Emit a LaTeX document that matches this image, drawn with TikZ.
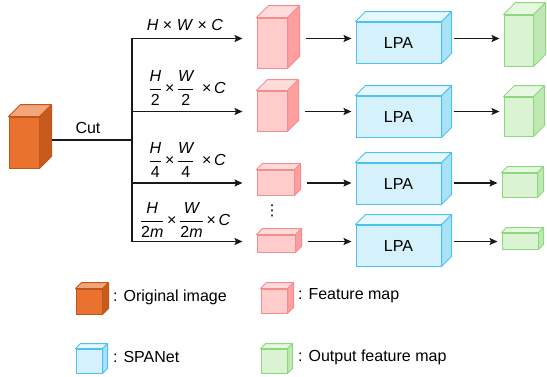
\documentclass[tikz,border=0pt]{standalone}
\usepackage{amsmath}
\usepackage{fontspec}
\setmainfont{Liberation Sans}
\newfontfamily\symfont{DejaVu Sans}
\usetikzlibrary{arrows.meta}

\definecolor{origfront}{HTML}{E8722E}
\definecolor{origtop}{HTML}{F2A679}
\definecolor{origside}{HTML}{C85A1C}
\definecolor{origline}{HTML}{C0561C}
\definecolor{featfront}{HTML}{FFCCCC}
\definecolor{feattop}{HTML}{FFDCDC}
\definecolor{featside}{HTML}{FF9F9F}
\definecolor{featline}{HTML}{F58C8C}
\definecolor{lpafront}{HTML}{D5F1FB}
\definecolor{lpatop}{HTML}{E6F7FD}
\definecolor{lpaside}{HTML}{A9E1F6}
\definecolor{lpaline}{HTML}{4FC1EE}
\definecolor{outfront}{HTML}{DAF3D2}
\definecolor{outtop}{HTML}{E6F8E0}
\definecolor{outside}{HTML}{BFE9B2}
\definecolor{outline}{HTML}{8ED67F}

% #1 style, #2 name, #3 position, #4 width, #5 height, #6 depth, #7 text
\newcommand{\cuboid}[7]{%
  \node[#1, minimum width=#4, minimum height=#5] (#2) at #3 {#7};
  \draw[#1 side] (#2.north east) -- ++(#6,-#6)
    -- ([shift={(#6,-#6)}]#2.south east) -- (#2.south east) -- cycle;
  \draw[#1 top] (#2.north west) -- ++(#6,-#6)
    -- ([shift={(#6,-#6)}]#2.north east) -- (#2.north east) -- cycle;
}
\newcommand{\tms}{\text{\,×\,}}

\begin{document}
\begin{tikzpicture}[x=1pt,y=-1pt,font=\fontsize{16}{19}\selectfont,
  >={Stealth[length=8pt,width=7pt,inset=1.5pt]},
  link/.style={line width=1.5pt,color=black!90},
  orig/.style={draw=origline,fill=origfront,line width=1pt,inner sep=0pt},
  orig side/.style={draw=origline,fill=origside,line width=1pt,line join=round},
  orig top/.style={draw=origline,fill=origtop,line width=1pt,line join=round},
  feat/.style={draw=featline,fill=featfront,line width=1pt,inner sep=0pt},
  feat side/.style={draw=featline,fill=featside,line width=1pt,line join=round},
  feat top/.style={draw=featline,fill=feattop,line width=1pt,line join=round},
  lpa/.style={draw=lpaline,fill=lpafront,line width=1pt,inner sep=0pt},
  lpa side/.style={draw=lpaline,fill=lpaside,line width=1pt,line join=round},
  lpa top/.style={draw=lpaline,fill=lpatop,line width=1pt,line join=round},
  outp/.style={draw=outline,fill=outfront,line width=1pt,inner sep=0pt},
  outp side/.style={draw=outline,fill=outside,line width=1pt,line join=round},
  outp top/.style={draw=outline,fill=outtop,line width=1pt,line join=round},
  legend/.style={anchor=west,inner sep=0pt}]
  \useasboundingbox (0,0) rectangle (547,376);
  % rows of the four scales
  \coordinate (r1) at (0,38.5);
  \coordinate (r2) at (0,111.5);
  \coordinate (r3) at (0,183);
  \coordinate (r4) at (0,241.5);
  \coordinate (cut) at (132,140);
  % input
  \cuboid{orig}{img}{(24,142.5)}{30}{51}{12}{}
  % feature maps
  \cuboid{feat}{f1}{(272,43)}{30}{50}{12}{}
  \cuboid{feat}{f2}{(272,111)}{30}{40}{11}{}
  \cuboid{feat}{f3}{(275.5,182.5)}{37}{25}{6}{}
  \cuboid{feat}{f4}{(276,243.5)}{38}{17}{6}{}
  % LPA blocks
  \cuboid{lpa}{l1}{(398.5,42.5)}{85}{41}{10}{LPA}
  \cuboid{lpa}{l2}{(398.5,116.5)}{85}{41}{10}{LPA}
  \cuboid{lpa}{l3}{(398.5,183.5)}{85}{41}{10}{LPA}
  \cuboid{lpa}{l4}{(398.5,245.5)}{85}{41}{10}{LPA}
  % outputs
  \cuboid{outp}{o1}{(518.5,40.5)}{29}{51}{12}{}
  \cuboid{outp}{o2}{(518.5,116.5)}{29}{39}{11}{}
  \cuboid{outp}{o3}{(519.5,185)}{35}{24}{6}{}
  \cuboid{outp}{o4}{(520,241)}{36}{16}{5}{}
  \node[inner sep=0pt] (dots) at (272,211) {\symfont\fontsize{15}{15}\selectfont ⋮};

  % cut and branches
  \draw[link,shorten <=12pt] (img.east |- cut) -- (cut);
  \node (cutlbl) at (88,128) {Cut};
  \draw[link,line cap=rect] (cut |- r1) -- (cut |- r4);
  \foreach \i in {1,...,4}
    \draw[link,->,shorten >=14pt] (cut |- r\i) -- (f\i.west |- r\i);
  \foreach \i/\s in {1/18,2/17,3/12,4/12}
    \draw[link,->,shorten <=\s pt,shorten >=4pt] (f\i.east |- r\i) -- (l\i.west |- r\i);
  \foreach \i in {1,...,4}
    \draw[link,->,shorten <=12pt,shorten >=4pt] (l\i.east |- r\i) -- (o\i.west |- r\i);

  % sizes
  \node (dim1) at (185,25) {\textit{H} × \textit{W} × \textit{C}};
  \node (dim2) at (187,88) {$\dfrac{\textit{H}}{\text{2}}\tms\dfrac{\textit{W}}{\text{2}}\;\tms\textit{C}$};
  \node (dim3) at (187,160) {$\dfrac{\textit{H}}{\text{4}}\tms\dfrac{\textit{W}}{\text{4}}\;\tms\textit{C}$};
  \node (dim4) at (185,220) {$\dfrac{\textit{H}}{\text{2\textit{m}}}\tms\dfrac{\textit{W}}{\text{2\textit{m}}}\tms\textit{C}$};

  % legend
  \cuboid{orig}{k1}{(89,301.5)}{26}{25}{6}{}
  \node[legend] (k1t) at (113,297) {: Original image};
  \cuboid{feat}{k2}{(274,301)}{26}{24}{6}{}
  \node[legend] (k2t) at (298,296) {: Feature map};
  \cuboid{lpa}{k3}{(89,361)}{26}{24}{5}{}
  \node[legend] (k3t) at (113,357) {: SPANet};
  \cuboid{outp}{k4}{(274,361)}{26}{24}{5}{}
  \node[legend] (k4t) at (298,357) {: Output feature map};
\end{tikzpicture}
\end{document}
